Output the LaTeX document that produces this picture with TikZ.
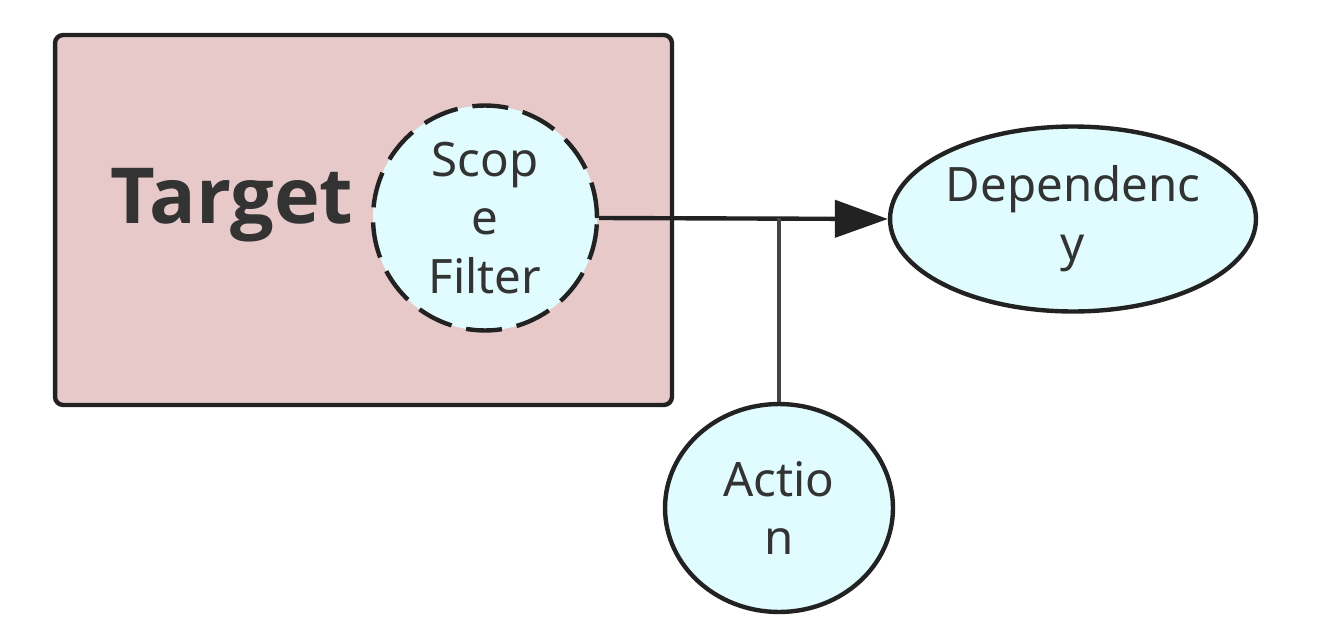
\documentclass[tikz,border=0pt]{standalone}
\usepackage{fontspec}
\setmainfont{Noto Sans}
\newfontfamily\tgtfont{Open Sans}
\usepackage{xcolor}
\usetikzlibrary{arrows.meta,positioning,shapes.geometric}
\definecolor{targetfill}{HTML}{E8C9C9}
\definecolor{nodefill}{HTML}{E0FCFE}
\definecolor{txt}{HTML}{333333}
\definecolor{edge}{HTML}{222222}

\begin{document}
\begin{tikzpicture}[
    x=0.02cm, y=-0.02cm,
    every node/.style={text=txt},
    group/.style={rectangle, draw=edge, line width=2.5pt, rounded corners=0.16cm, fill=targetfill},
    ent/.style={ellipse, draw=edge, line width=2.5pt, fill=nodefill, inner sep=0pt, align=center,
        font=\fontsize{27}{33.5}\selectfont},
    arrow/.style={-{Triangle[length=1.06cm, width=0.74cm]}, line width=2.5pt, draw=edge}
]
    \useasboundingbox (0,0) rectangle (1317,639);

    % Target group
    \node[group, minimum width=12.34cm, minimum height=7.4cm] (target) at (363.5,220) {};
    \node[font=\tgtfont\fontsize{44}{52}\selectfont\bfseries] (tlabel) at (232,205) {Target};

    % Nodes
    \node[ent, dash pattern=on 0.72cm off 0.3cm, minimum width=4.48cm, minimum height=4.5cm] (scope) at (485,218) {Scop\\e\\Filter};
    \node[ent, minimum width=7.32cm, minimum height=3.7cm] (dep) at (1073,219) {Dependenc\\y};
    \node[ent, minimum width=4.56cm, minimum height=4.16cm] (action) at (779,508) {Actio\\n};

    % Connectors
    \coordinate (jn) at (action.north |- scope.east);
    \draw[arrow] (scope.east) -- (dep.west);
    \draw[line width=2.5pt, draw=edge!85!white] (action.north) -- (jn);
\end{tikzpicture}
\end{document}
